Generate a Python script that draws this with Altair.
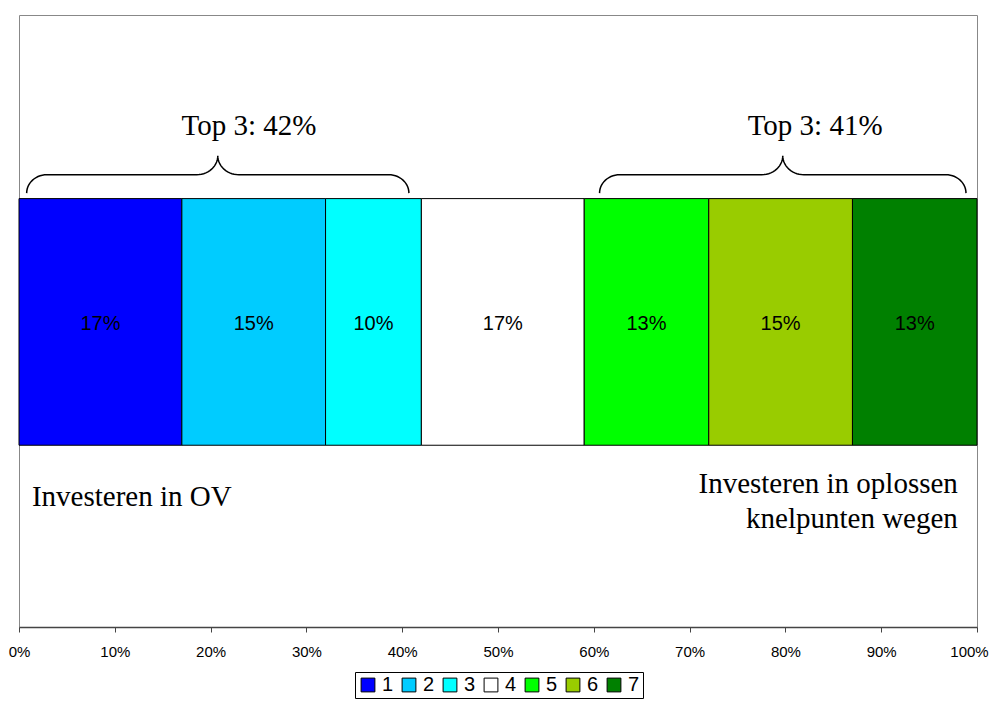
import math
import altair as alt
import pandas as pd

# ---- data -------------------------------------------------------------
categories = ["1", "2", "3", "4", "5", "6", "7"]
shares = [17, 15, 10, 17, 13, 15, 13]
colors = ["#0000FF", "#00CCFF", "#00FFFF", "#FFFFFF", "#00FF00", "#99CC00", "#008000"]
tick_values = [0, 10, 20, 30, 40, 50, 60, 70, 80, 90, 100]

group_labels = ["Top 3: 42%", "Top 3: 41%"]
group_label_x = [24.0, 83.1]
brace_from = [0.8, 60.6]
brace_to = [40.7, 98.85]

side_left_text = ["Investeren in OV"]
side_right_text = ["Investeren in oplossen", "knelpunten wegen"]

# ---- layout (data units of the 0-100 scales) ---------------------------
BAR_Y0, BAR_Y1, BAR_LABEL_Y = 29.7, 70, 49.5
BRACE_END_Y, BRACE_FLAT_Y, BRACE_TIP_Y = 70.9, 73.9, 77.0
BRACE_R_END, BRACE_R_MID = 2.1, 2.2
GROUP_LABEL_Y = 80.4
LEFT_X, LEFT_Y = [1.35], [19.7]
RIGHT_X, RIGHT_Y = [98.0, 98.0], [21.9, 16.2]

bars = pd.DataFrame({"cat": categories, "share": shares})


def brace_points(x0, x1, steps=14):
    xc = (x0 + x1) / 2
    half = []
    for i in range(steps + 1):
        t = math.pi / 2 * i / steps
        half.append((x0 + BRACE_R_END * (1 - math.cos(t)),
                     BRACE_END_Y + (BRACE_FLAT_Y - BRACE_END_Y) * math.sin(t)))
    for i in range(steps + 1):
        t = math.pi / 2 * i / steps
        half.append((xc - BRACE_R_MID + BRACE_R_MID * math.sin(t),
                     BRACE_FLAT_Y + (BRACE_TIP_Y - BRACE_FLAT_Y) * (1 - math.cos(t))))
    return half + [(2 * xc - x, y) for x, y in reversed(half[:-1])]


rows = []
for b, (a, z) in enumerate(zip(brace_from, brace_to)):
    for k, (x, y) in enumerate(brace_points(a, z)):
        rows.append({"brace": b, "idx": k, "x": x, "y": y})
braces = pd.DataFrame(rows)

groups = pd.DataFrame({"label": group_labels, "x": group_label_x, "y": [GROUP_LABEL_Y] * 2})
left_txt = pd.DataFrame({"t": side_left_text, "x": LEFT_X, "y": LEFT_Y})
right_txt = pd.DataFrame({"t": side_right_text, "x": RIGHT_X, "y": RIGHT_Y})

# ---- scales / axes ----------------------------------------------------------
xscale = alt.Scale(domain=[0, 100], nice=False, zero=False)
yscale = alt.Scale(domain=[0, 100], nice=False, zero=False)
xaxis = alt.Axis(values=tick_values, labelExpr="datum.value + '%'", grid=False, title=None,
                 tickSize=5, tickColor="#444444", domainColor="#444444", domainWidth=1.5,
                 labelFont="Liberation Sans", labelFontSize=15, labelPadding=12,
                 labelColor="black", labelFlush=False, labelOverlap=False,
                 labelOffset={"condition": {"test": "datum.value == 100", "value": -8},
                              "value": 0})

base_bars = alt.Chart(bars).transform_window(
    cum="sum(share)", sort=[alt.SortField("cat")], frame=[None, 0]
).transform_calculate(
    start="datum.cum - datum.share",
    mid="datum.cum - datum.share / 2",
    label="datum.share + '%'",
)

bar_layer = base_bars.mark_bar(stroke="black", strokeWidth=1, opacity=1).encode(
    x=alt.X("start:Q", scale=xscale, axis=xaxis),
    x2="cum:Q",
    y=alt.YDatum(BAR_Y0, scale=yscale, axis=None),
    y2=alt.Y2Datum(BAR_Y1),
    color=alt.Color("cat:N", scale=alt.Scale(domain=categories, range=colors),
                    legend=alt.Legend(orient="none", legendX=336, legendY=657,
                                      direction="horizontal", columns=7, title=None,
                                      symbolType="square", symbolSize=190,
                                      symbolStrokeColor="black", symbolStrokeWidth=1,
                                      symbolOpacity=1, strokeColor="black", fillColor="white",
                                      padding=3, labelFont="Liberation Sans",
                                      labelFontSize=20, labelColor="black",
                                      labelOffset=4, columnPadding=5)),
)

bar_text = base_bars.mark_text(font="Liberation Sans", fontSize=20, color="black").encode(
    x=alt.X("mid:Q", scale=xscale, axis=xaxis),
    y=alt.YDatum(BAR_LABEL_Y, scale=yscale, axis=None),
    text="label:N",
)

brace_layer = alt.Chart(braces).mark_line(color="black", strokeWidth=1.5).encode(
    x=alt.X("x:Q", scale=xscale, axis=xaxis),
    y=alt.Y("y:Q", scale=yscale, axis=None),
    detail="brace:N",
    order="idx:Q",
)

group_text = alt.Chart(groups).mark_text(font="Liberation Serif", fontSize=29, color="black",
                                         baseline="alphabetic", align="center").encode(
    x=alt.X("x:Q", scale=xscale, axis=xaxis),
    y=alt.Y("y:Q", scale=yscale, axis=None),
    text="label:N",
)

left_layer = alt.Chart(left_txt).mark_text(font="Liberation Serif", fontSize=29, color="black",
                                           baseline="alphabetic", align="left").encode(
    x=alt.X("x:Q", scale=xscale, axis=xaxis),
    y=alt.Y("y:Q", scale=yscale, axis=None),
    text="t:N",
)

right_layer = alt.Chart(right_txt).mark_text(font="Liberation Serif", fontSize=29, color="black",
                                             baseline="alphabetic", align="right").encode(
    x=alt.X("x:Q", scale=xscale, axis=xaxis),
    y=alt.Y("y:Q", scale=yscale, axis=None),
    text="t:N",
)

chart = alt.layer(bar_layer, bar_text, brace_layer, group_text, left_layer, right_layer).properties(
    width=958, height=612,
    autosize=alt.AutoSizeParams(type="none"),
    padding={"left": 11, "top": 7, "right": 12, "bottom": 72},
    background="white",
).configure_view(stroke="#888888", strokeWidth=1)

chart.save("out.html", embed_options={"renderer": "svg", "actions": False})
